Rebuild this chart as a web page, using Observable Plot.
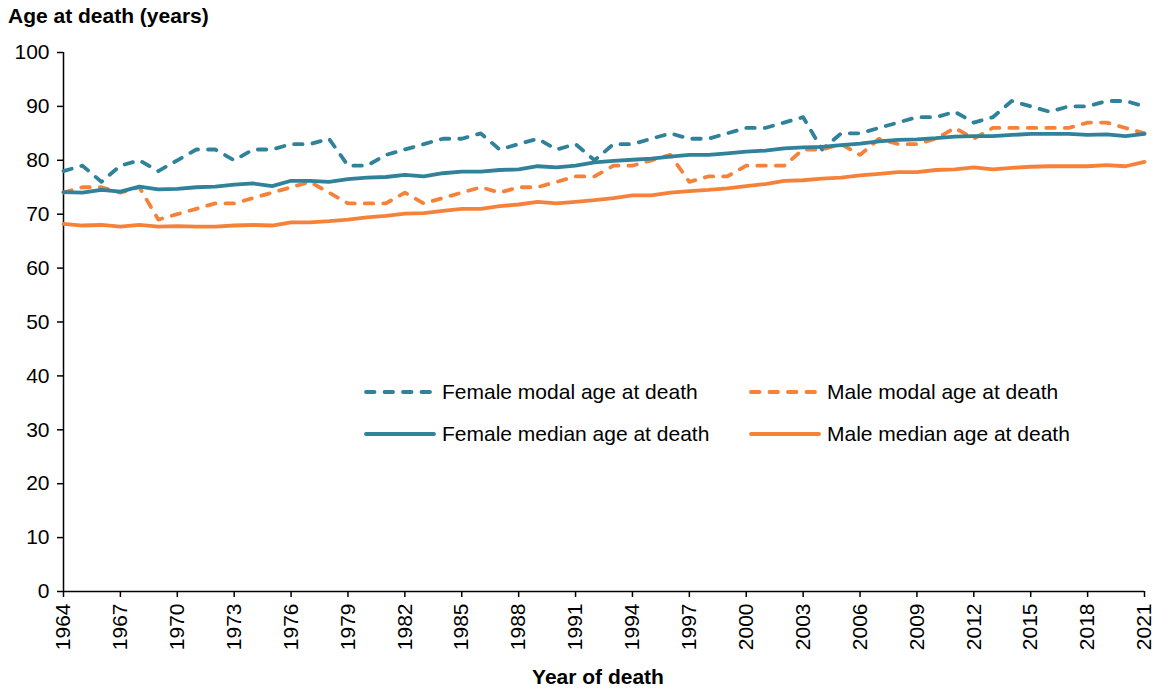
<!DOCTYPE html>
<html>
<head>
<meta charset="utf-8">
<script src="https://cdn.jsdelivr.net/npm/d3@7"></script>
<script src="https://cdn.jsdelivr.net/npm/@observablehq/plot@0.6"></script>
<style>
  html, body { margin: 0; padding: 0; background: #fff; }
  #wrap { position: relative; width: 1156px; height: 691px; font-family: "Liberation Sans", Arial, sans-serif; color: #000; }
  #title { position: absolute; left: 8px; top: 4px; font-weight: bold; font-size: 21px; white-space: nowrap; line-height: 24px; }
  #xlabel { position: absolute; left: 498px; width: 200px; top: 665px; text-align: center; font-weight: bold; font-size: 21px; line-height: 24px; }
  .leg { position: absolute; display: flex; align-items: center; font-size: 21px; white-space: nowrap; height: 26px; }
  .leg svg { margin-right: 5px; display: block; }
</style>
</head>
<body>
<div id="wrap">
  <div id="chart"></div>
  <div id="title"></div>
  <div id="xlabel"></div>
  <div id="legend"></div>
</div>
<script>
const years = [1964,1965,1966,1967,1968,1969,1970,1971,1972,1973,
  1974,1975,1976,1977,1978,1979,1980,1981,1982,1983,
  1984,1985,1986,1987,1988,1989,1990,1991,1992,1993,
  1994,1995,1996,1997,1998,1999,2000,2001,2002,2003,
  2004,2005,2006,2007,2008,2009,2010,2011,2012,2013,
  2014,2015,2016,2017,2018,2019,2020,2021];

const femaleModal = [78,79,76,79,80,78,80,82,82,80,
  82,82,83,83,84,79,79,81,82,83,
  84,84,85,82,83,84,82,83,80,83,
  83,84,85,84,84,85,86,86,87,88,
  82,85,85,86,87,88,88,89,87,88,
  91,90,89,90,90,91,91,90];

const maleModal = [74,75,75,74,75,69,70,71,72,72,
  73,74,75,76,74,72,72,72,74,72,
  73,74,75,74,75,75,76,77,77,79,
  79,80,81,76,77,77,79,79,79,82,
  82,83,81,84,83,83,84,86,84,86,
  86,86,86,86,87,87,86,85];

const femaleMedian = [74.1,74.0,74.5,74.2,75.1,74.6,74.7,75.0,75.1,75.5,
  75.7,75.2,76.2,76.2,76.0,76.5,76.8,76.9,77.3,77.0,
  77.6,77.9,77.9,78.2,78.3,78.9,78.7,79.0,79.6,79.9,
  80.1,80.3,80.7,81.0,81.0,81.3,81.6,81.8,82.2,82.4,
  82.5,82.8,83.1,83.5,83.8,83.9,84.1,84.4,84.5,84.5,
  84.7,84.9,84.9,84.9,84.7,84.8,84.5,84.9];

const maleMedian = [68.2,67.9,68.0,67.7,68.0,67.7,67.8,67.7,67.7,67.9,
  68.0,67.9,68.5,68.5,68.7,69.0,69.4,69.7,70.1,70.2,
  70.6,71.0,71.0,71.5,71.8,72.3,72.0,72.3,72.6,73.0,
  73.5,73.5,74.0,74.3,74.5,74.8,75.2,75.6,76.2,76.3,
  76.6,76.8,77.2,77.5,77.8,77.8,78.2,78.3,78.7,78.3,
  78.6,78.8,78.9,78.9,78.9,79.1,78.9,79.7];

const xTicks = [1964,1967,1970,1973,1976,1979,1982,1985,1988,1991,1994,1997,2000,2003,2006,2009,2012,2015,2018,2021];
const yTicks = [0,10,20,30,40,50,60,70,80,90,100];

const titleText = "Age at death (years)";
const xLabelText = "Year of death";

const teal = "#2F8299";
const orange = "#F6823A";

const seriesNames = ["Female modal age at death", "Male modal age at death", "Female median age at death", "Male median age at death"];
const seriesColors = [teal, orange, teal, orange];
const seriesDashed = [true, true, false, false];
const seriesValues = [femaleModal, maleModal, femaleMedian, maleMedian];
const dashPattern = "8.5,10";

const lineMarks = seriesValues.map((vals, i) =>
  Plot.line(years, {
    x: years, y: vals,
    stroke: seriesColors[i], strokeWidth: 3.8,
    strokeDasharray: seriesDashed[i] ? dashPattern : null,
    strokeLinecap: "round", strokeLinejoin: "round"
  })
);

const chart = Plot.plot({
  width: 1156, height: 691,
  marginLeft: 63, marginRight: 12, marginTop: 52, marginBottom: 100,
  style: { fontFamily: "'Liberation Sans', Arial, sans-serif", fontSize: "21px", color: "#000", background: "#fff", overflow: "visible" },
  x: { domain: [1964, 2021] },
  y: { domain: [0, 100] },
  marks: [
    Plot.axisY({ ticks: yTicks, tickSize: 6, tickPadding: 8, label: null, strokeWidth: 1.5, fontSize: 21 }),
    Plot.axisX({ ticks: xTicks, tickFormat: d => String(d), tickRotate: -90, tickSize: 6, tickPadding: 6, label: null, strokeWidth: 1.5, fontSize: 21 }),
    Plot.ruleX([1964], { stroke: "#000", strokeWidth: 1.5 }),
    Plot.ruleY([0], { stroke: "#000", strokeWidth: 1.5 }),
    ...lineMarks
  ]
});
document.getElementById("chart").appendChild(chart);
document.getElementById("title").textContent = titleText;
document.getElementById("xlabel").textContent = xLabelText;

// legend (2 x 2 grid inside plot area)
const legPos = [[363, 392], [748, 392], [363, 434], [748, 434]];
const legend = document.getElementById("legend");
seriesNames.forEach((name, i) => {
  const d = document.createElement("div");
  d.className = "leg";
  d.style.left = legPos[i][0] + "px";
  d.style.top = (legPos[i][1] - 13) + "px";
  const dash = seriesDashed[i] ? `stroke-dasharray="${dashPattern}"` : '';
  d.innerHTML = `<svg width="74" height="10"><line x1="3" y1="5" x2="71" y2="5" stroke="${seriesColors[i]}" stroke-width="3.8" stroke-linecap="round" ${dash}/></svg><span>${name}</span>`;
  legend.appendChild(d);
});
</script>
</body>
</html>
